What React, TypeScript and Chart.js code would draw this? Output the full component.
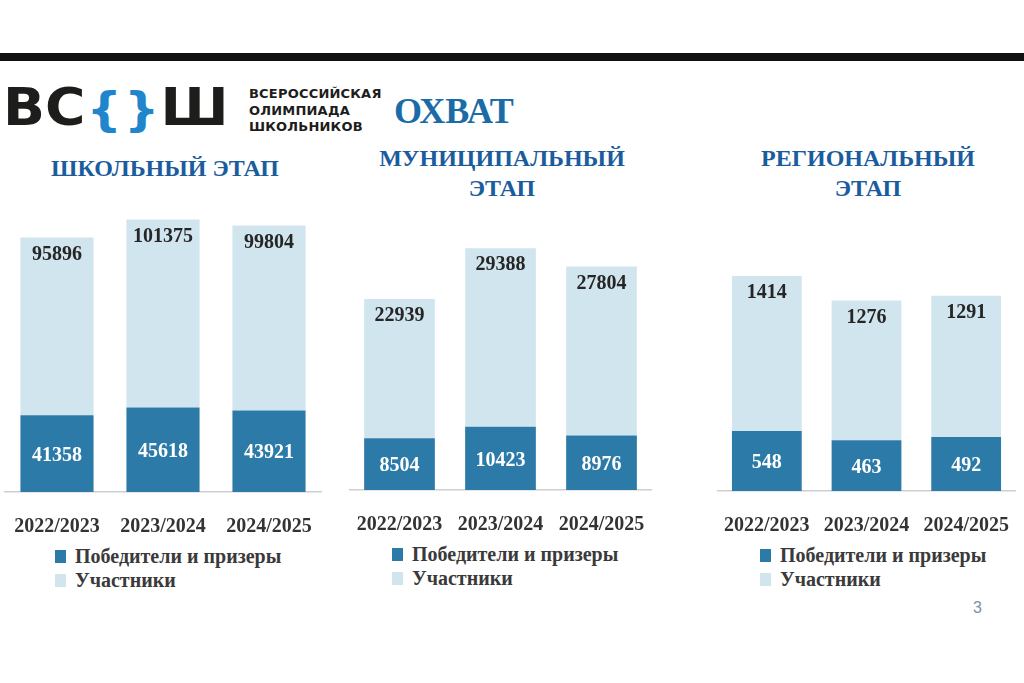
import React, { useEffect, useRef } from "react";
import { Chart, registerables } from "chart.js";

Chart.register(...registerables);

const categories = ["2022/2023", "2023/2024", "2024/2025"];
const seriesLabels = ["Победители и призеры", "Участники"];

const schoolWinners = [41358, 45618, 43921];
const schoolParticipants = [95896, 101375, 99804];

const municipalWinners = [8504, 10423, 8976];
const municipalParticipants = [22939, 29388, 27804];

const regionalWinners = [548, 463, 492];
const regionalParticipants = [1414, 1276, 1291];

const DARK = "#2b7aa8";
const LIGHT = "#d1e5ef";
const TITLE_BLUE = "#1b5c9d";
const SERIF = '"Liberation Serif", "Times New Roman", serif';
const AXIS_H = 46;

const valueLabels = {
  id: "valueLabels",
  afterDatasetsDraw(chart: any) {
    const ctx = chart.ctx;
    chart.data.datasets.forEach((ds: any, di: number) => {
      const meta = chart.getDatasetMeta(di);
      meta.data.forEach((el: any, i: number) => {
        const { x, y, base } = el.getProps(["x", "y", "base"], true);
        const v = ds.data[i];
        ctx.save();
        ctx.font = `bold 20px ${SERIF}`;
        ctx.textAlign = "center";
        ctx.textBaseline = "middle";
        if (di === 0) {
          ctx.fillStyle = "#ffffff";
          ctx.fillText(String(v), x, (y + base) / 2 + 2);
        } else {
          ctx.fillStyle = "#262626";
          ctx.fillText(String(v), x, y + 17);
        }
        ctx.restore();
      });
    });
  },
};

type StageProps = {
  left: number;
  top: number;
  width: number;
  plotHeight: number;
  yMax: number;
  bar: number;
  winners: number[];
  participants: number[];
};

function StageChart(p: StageProps) {
  const ref = useRef<HTMLCanvasElement | null>(null);
  const height = p.plotHeight + AXIS_H;
  useEffect(() => {
    if (!ref.current) return;
    const chart = new Chart(ref.current, {
      type: "bar",
      data: {
        labels: categories,
        datasets: [
          {
            label: seriesLabels[0],
            data: p.winners,
            backgroundColor: DARK,
            borderWidth: 0,
            barPercentage: p.bar,
            categoryPercentage: 1,
          },
          {
            label: seriesLabels[1],
            data: p.participants,
            backgroundColor: LIGHT,
            borderWidth: 0,
            barPercentage: p.bar,
            categoryPercentage: 1,
          },
        ],
      },
      options: {
        animation: false,
        responsive: false,
        devicePixelRatio: 1,
        layout: { padding: 0, autoPadding: false },
        plugins: {
          legend: { display: false },
          title: { display: false },
          tooltip: { enabled: false },
        },
        scales: {
          x: {
            stacked: true,
            grid: { display: false, drawTicks: false },
            border: { display: true, color: "#cfcfcf", width: 1.5 },
            ticks: {
              padding: 23,
              maxRotation: 0,
              color: "#333333",
              font: { family: SERIF, size: 20, weight: "bold" },
            },
            afterFit(s: any) {
              s.paddingLeft = 0;
              s.paddingRight = 0;
              s.paddingTop = 0;
              s.paddingBottom = 0;
              s.height = AXIS_H;
            },
          },
          y: {
            stacked: true,
            display: false,
            min: 0,
            max: p.yMax,
          },
        },
      },
      plugins: [valueLabels],
    } as any);
    return () => chart.destroy();
  }, []);
  return (
    <canvas
      ref={ref}
      width={p.width}
      height={height}
      style={{
        position: "absolute",
        left: p.left,
        top: p.top,
        width: p.width,
        height,
      }}
    />
  );
}

function Title({ cx, top, lines }: { cx: number; top: number; lines: string[] }) {
  return (
    <div
      style={{
        position: "absolute",
        left: cx - 200,
        width: 400,
        top,
        textAlign: "center",
        fontFamily: SERIF,
        fontWeight: "bold",
        fontSize: 24,
        lineHeight: "30px",
        color: TITLE_BLUE,
      }}
    >
      {lines.map((l, i) => (
        <div key={i}>{l}</div>
      ))}
    </div>
  );
}

function Legend({ left, top }: { left: number; top: number }) {
  const colors = [DARK, LIGHT];
  return (
    <div style={{ position: "absolute", left, top, fontFamily: SERIF }}>
      {seriesLabels.map((l, i) => (
        <div
          key={i}
          style={{
            display: "flex",
            alignItems: "center",
            height: 24,
            fontSize: 20,
            fontWeight: "bold",
            color: "#3a3a3a",
            whiteSpace: "nowrap",
          }}
        >
          <span
            style={{
              display: "inline-block",
              width: 11,
              height: 13,
              background: colors[i],
              marginRight: 9,
            }}
          />
          {l}
        </div>
      ))}
    </div>
  );
}

export default function App() {
  const logoFont = '"DejaVu Sans", sans-serif';
  return (
    <div
      style={{
        position: "absolute",
        left: 0,
        top: 0,
        width: 1024,
        height: 683,
        background: "#ffffff",
        overflow: "hidden",
      }}
    >
      <div
        style={{
          position: "absolute",
          left: 0,
          top: 53,
          width: 1024,
          height: 8,
          background: "#111111",
        }}
      />
      <div
        style={{
          position: "absolute",
          left: 3,
          top: 78,
          fontFamily: logoFont,
          fontWeight: "bold",
          fontSize: 51,
          lineHeight: "60px",
          color: "#1d1d1b",
          whiteSpace: "nowrap",
          transform: "scaleX(1.08)",
          transformOrigin: "left top",
        }}
      >
        ВС
        <span style={{ color: "#1f86cc", fontSize: 46, margin: "0 1px" }}>{"{"}</span>
        <span style={{ color: "#1f86cc", fontSize: 46, margin: "0 1px" }}>{"}"}</span>
        Ш
      </div>
      <div
        style={{
          position: "absolute",
          left: 249,
          top: 86,
          fontFamily: logoFont,
          fontWeight: "bold",
          fontSize: 13,
          lineHeight: "16.5px",
          color: "#1d1d1b",
          letterSpacing: 0.2,
        }}
      >
        <div>ВСЕРОССИЙСКАЯ</div>
        <div>ОЛИМПИАДА</div>
        <div>ШКОЛЬНИКОВ</div>
      </div>
      <div
        style={{
          position: "absolute",
          left: 394,
          top: 90,
          fontFamily: SERIF,
          fontWeight: "bold",
          fontSize: 36,
          lineHeight: "42px",
          color: "#1b6ca6",
        }}
      >
        ОХВАТ
      </div>

      <Title cx={165} top={153} lines={["ШКОЛЬНЫЙ ЭТАП"]} />
      <Title cx={502} top={143} lines={["МУНИЦИПАЛЬНЫЙ", "ЭТАП"]} />
      <Title cx={868} top={143} lines={["РЕГИОНАЛЬНЫЙ", "ЭТАП"]} />

      <StageChart
        left={4}
        top={212}
        width={318}
        plotHeight={280}
        yMax={151000}
        bar={0.69}
        winners={schoolWinners}
        participants={schoolParticipants}
      />
      <StageChart
        left={349}
        top={230}
        width={303}
        plotHeight={260}
        yMax={42800}
        bar={0.7}
        winners={municipalWinners}
        participants={municipalParticipants}
      />
      <StageChart
        left={717}
        top={261}
        width={299}
        plotHeight={230}
        yMax={2100}
        bar={0.7}
        winners={regionalWinners}
        participants={regionalParticipants}
      />

      <Legend left={55} top={544} />
      <Legend left={392} top={542} />
      <Legend left={760} top={543} />

      <div
        style={{
          position: "absolute",
          left: 973,
          top: 599,
          fontFamily: '"Liberation Sans", sans-serif',
          fontSize: 16,
          color: "#7d90a8",
        }}
      >
        3
      </div>
    </div>
  );
}
